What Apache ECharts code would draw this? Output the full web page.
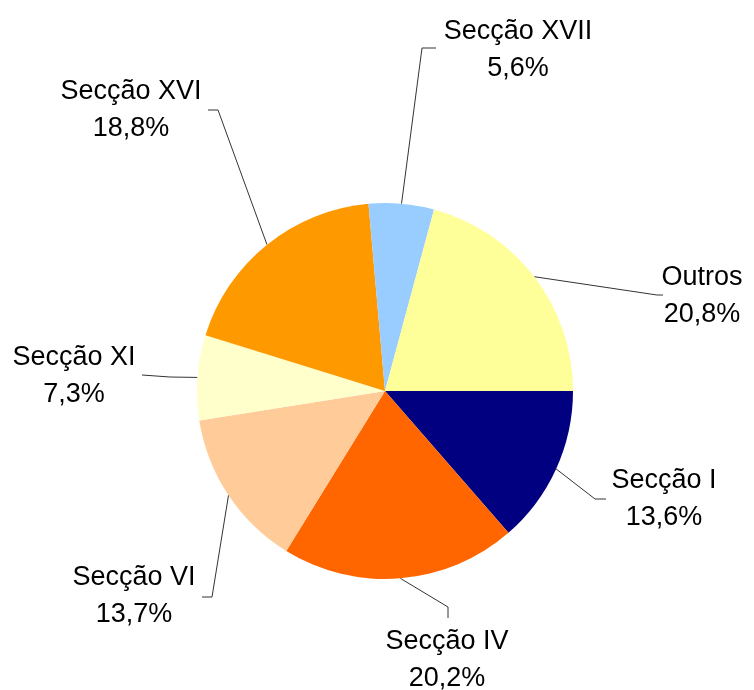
<!DOCTYPE html>
<html>
<head>
<meta charset="utf-8">
<script src="https://cdn.jsdelivr.net/npm/echarts@6/dist/echarts.min.js"></script>
<style>
  html, body { margin: 0; padding: 0; background: #fff; }
  #chart { width: 754px; height: 690px; }
</style>
</head>
<body>
<div id="chart"></div>
<script>
// categorias e valores (%)
const names = ['Secção I', 'Secção IV', 'Secção VI', 'Secção XI', 'Secção XVI', 'Secção XVII', 'Outros']
const values = [13.6, 20.2, 13.7, 7.3, 18.8, 5.6, 20.8]
const colors = ['#000080', '#FF6600', '#FFCC99', '#FFFFCC', '#FF9900', '#99CCFF', '#FFFF99']

// posição dos rótulos e das linhas de ligação (centro do texto, cotovelo, fim)
const labelPos = [
    { x: 664, y: 499, kink: [595, 499], end: [606, 499] },
    { x: 447, y: 660, kink: [448, 607], end: [448, 618] },
    { x: 134, y: 596, kink: [212, 597], end: [202, 597] },
    { x: 74, y: 376, kink: [170, 377], end: [142, 375] },
    { x: 131, y: 110, kink: [218, 110], end: [208, 110] },
    { x: 518, y: 50, kink: [422, 48], end: [436, 48] },
    { x: 702, y: 296, kink: [657, 295], end: [663, 295] },
]

const data = names.map((n, i) => ({ name: n, value: values[i], itemStyle: { color: colors[i] } }))

let myChart = echarts.init(document.getElementById('chart'))
let option = {
    animation: false,
    series: [
        {
            type: 'pie',
            center: [385, 391],
            radius: 188,
            startAngle: 0, // começa às 3 horas
            clockwise: true,
            emphasis: { disabled: true },
            label: {
                show: true,
                position: 'outside',
                fontFamily: 'Liberation Sans, Arial, sans-serif',
                fontSize: 27,
                lineHeight: 37,
                color: '#000',
                align: 'center',
                formatter: (p) => p.name + '\n' + p.value.toFixed(1).replace('.', ',') + '%',
            },
            labelLine: {
                show: true,
                lineStyle: { color: '#333', width: 1 },
            },
            labelLayout: (params) => {
                let pos = labelPos[params.dataIndex]
                let start = params.labelLinePoints ? params.labelLinePoints[0] : pos.kink
                return {
                    x: pos.x,
                    y: pos.y,
                    align: 'center',
                    verticalAlign: 'middle',
                    labelLinePoints: [start, pos.kink, pos.end],
                }
            },
            data: data,
        },
    ],
}
myChart.setOption(option)
</script>
</body>
</html>
